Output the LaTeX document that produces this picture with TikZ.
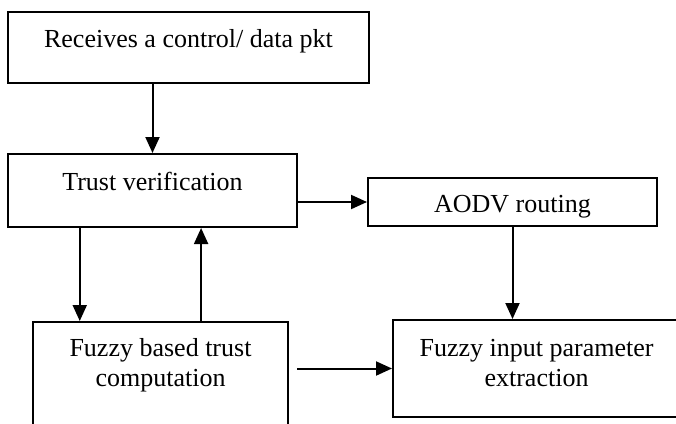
\documentclass[tikz,border=0pt]{standalone}
\usepackage{fontspec}
\setmainfont{Liberation Serif}
\usetikzlibrary{arrows.meta,calc}
\tikzset{
  box/.style={draw, line width=2pt, inner sep=0pt},
  txt/.style={inner sep=0pt, align=center, font=\fontsize{26}{30}\selectfont},
  arr/.style={-{Triangle[length=16pt,width=14pt]}, line width=2pt}
}
\begin{document}
\begin{tikzpicture}[x=1pt, y=-1pt]
\clip (0, 0) rectangle (676, 423);

\node[box, minimum width=361pt, minimum height=71pt] (recv) at (188.5, 47.5) {};
\node[txt, anchor=base] (recvtxt) at ([yshift=-36pt]recv.north) {Receives a control/ data pkt};

\node[box, minimum width=289pt, minimum height=73pt] (trust) at (152.5, 190.5) {};
\node[txt, anchor=base] (trusttxt) at ([yshift=-37pt]trust.north) {Trust verification};

\node[box, minimum width=289pt, minimum height=48pt] (aodv) at (512.5, 202) {};
\node[txt, anchor=base] (aodvtxt) at ([yshift=-35pt]aodv.north) {AODV routing};

\node[box, minimum width=255pt, minimum height=118pt] (ftrust) at (160.5, 381) {};
\node[txt, anchor=base] (ftrusttxt) at ([yshift=-65pt]ftrust.north) {Fuzzy based trust\\computation};

\node[box, minimum width=287pt, minimum height=97pt] (fin) at (536.5, 368.5) {};
\node[txt, anchor=base] (fintxt) at ([yshift=-67pt]fin.north) {Fuzzy input parameter\\extraction};

\coordinate (dn) at ($(trust.south west)!.25!(trust.south east)$);
\coordinate (up) at ($(trust.south west)!.667!(trust.south east)$);

\draw[arr] (recv.south -| trust.north) -- (trust.north);
\draw[arr] (trust.east |- aodv.west) -- (aodv.west);
\draw[arr] (aodv.south) -- (aodv.south |- fin.north);
\draw[arr] (dn) -- (dn |- ftrust.north);
\draw[arr] (up |- ftrust.north) -- (up);
\draw[arr] ([xshift=8pt]ftrust.east |- fin.west) -- (fin.west);
\end{tikzpicture}
\end{document}
